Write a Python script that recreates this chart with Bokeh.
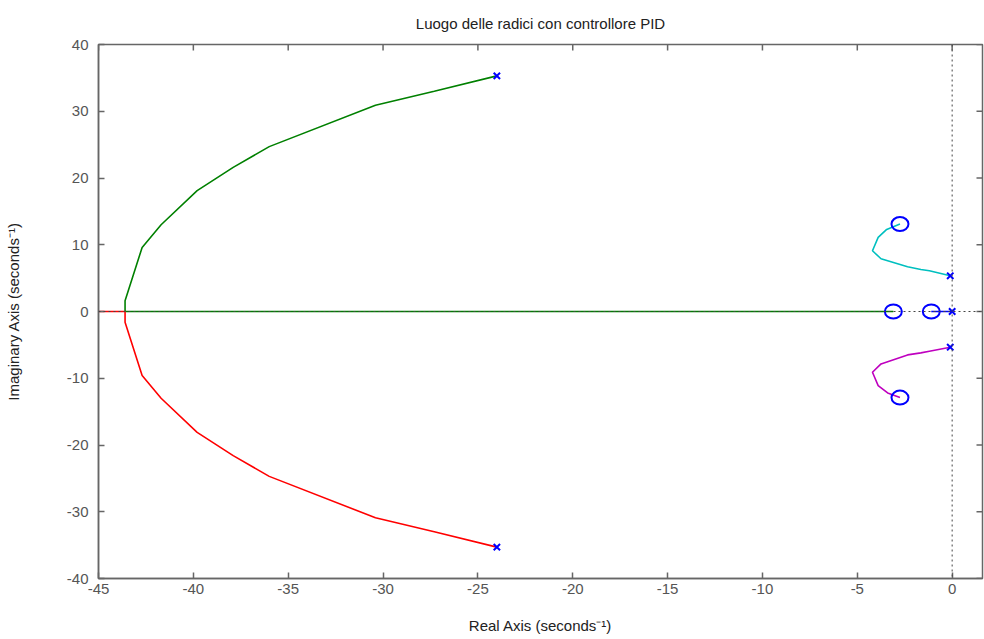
from bokeh.plotting import figure
from bokeh.models import Range1d, FixedTicker, Span
from bokeh.embed import file_html
from bokeh.resources import INLINE

# ---- data ----
title_text = "Luogo delle radici con controllore PID"
green_x = [-24.0, -27.3, -30.4, -36.0, -37.9, -39.8, -41.7, -42.7, -43.6, -43.6, -3.1]
green_y = [35.3, 33.0, 30.9, 24.7, 21.6, 18.1, 13.0, 9.6, 1.6, 0.0, 0.0]
red_x = [-24.0, -27.3, -30.4, -36.0, -37.9, -39.8, -41.7, -42.7, -43.6, -43.6, -45.0]
red_y = [-35.3, -33.0, -30.9, -24.7, -21.6, -18.1, -13.0, -9.6, -1.6, 0.0, 0.0]
cyan_x = [-0.1, -1.2, -1.65, -2.35, -3.75, -4.2, -3.9, -3.45, -2.75]
cyan_y = [5.35, 6.1, 6.3, 6.7, 7.9, 9.1, 11.1, 12.3, 13.1]
mag_x = [-0.1, -1.2, -1.65, -2.35, -3.75, -4.2, -3.9, -3.4, -2.75]
mag_y = [-5.35, -5.95, -6.2, -6.5, -7.85, -9.1, -11.1, -12.2, -12.9]
blue_x = [0.0, -1.1]
blue_y = [0.0, 0.0]
pole_x = [-24.0, -24.0, -0.1, -0.1, 0.0]
pole_y = [35.3, -35.3, 5.35, -5.35, 0.0]
zero_x = [-2.75, -2.75, -3.1, -1.1]
zero_y = [13.1, -12.9, 0.0, 0.0]
x_ticks = [-45, -40, -35, -30, -25, -20, -15, -10, -5, 0]
y_ticks = [-40, -30, -20, -10, 0, 10, 20, 30, 40]
x_min, x_max = -45, 1.6
y_min, y_max = -40, 40

p = figure(width=984, height=639, output_backend="svg", toolbar_location=None,
           x_range=Range1d(x_min, x_max), y_range=Range1d(y_min, y_max),
           title=title_text,
           x_axis_label="Real Axis (seconds⁻¹)",
           y_axis_label="Imaginary Axis (seconds⁻¹)",
           min_border_left=98, min_border_right=2, min_border_top=0, min_border_bottom=61)

p.background_fill_color = "white"
p.border_fill_color = "white"
p.xgrid.visible = False
p.ygrid.visible = False
p.outline_line_color = "#666666"
p.outline_line_width = 1.5

p.title.align = "center"
p.title.text_font = "Liberation Sans"
p.title.text_font_size = "15px"
p.title.text_font_style = "normal"
p.title.text_color = "#222222"
p.title.padding = 5
p.title.standoff = 15

for ax in (p.xaxis[0], p.yaxis[0]):
    ax.axis_line_color = "#666666"
    ax.axis_line_width = 1.5
    ax.major_tick_line_color = "#666666"
    ax.major_tick_line_width = 1.5
    ax.major_tick_in = 6
    ax.major_tick_out = 0
    ax.minor_tick_line_color = None
    ax.major_label_text_font = "Liberation Sans"
    ax.major_label_text_font_size = "15px"
    ax.major_label_text_color = "#555555"
    ax.axis_label_text_font = "Liberation Sans"
    ax.axis_label_text_font_size = "15px"
    ax.axis_label_text_font_style = "normal"
    ax.axis_label_text_color = "#222222"

p.xaxis.ticker = FixedTicker(ticks=x_ticks)
p.yaxis.ticker = FixedTicker(ticks=y_ticks)
p.xaxis.major_label_overrides = {t: str(t) for t in x_ticks}
p.yaxis.major_label_overrides = {t: str(t) for t in y_ticks}
p.xaxis.major_label_standoff = 5
p.yaxis.major_label_standoff = 10
p.xaxis.axis_label_standoff = 20
p.yaxis.axis_label_standoff = 42

# inward ticks on top and right edges of the box (half of each dash is clipped by the frame)
p.scatter(x=x_ticks, y=[y_max] * len(x_ticks), marker="dash", angle=1.5708, size=12,
          line_color="#666666", line_width=1.5)
p.scatter(x=[x_max] * len(y_ticks), y=y_ticks, marker="dash", size=12,
          line_color="#666666", line_width=1.5)

# dotted axes lines
p.add_layout(Span(location=0, dimension="width", line_color="#444444", line_dash="2 3", line_width=1))
p.add_layout(Span(location=0, dimension="height", line_color="#444444", line_dash="2 3", line_width=1))

p.line(green_x, green_y, line_color="#008000", line_width=1.6)
p.line(red_x, red_y, line_color="#ff0000", line_width=1.6)
p.line(cyan_x, cyan_y, line_color="#00bfbf", line_width=1.6)
p.line(mag_x, mag_y, line_color="#bf00bf", line_width=1.6)
p.line(blue_x, blue_y, line_color="#0000ff", line_width=1.6)

p.ellipse(x=zero_x, y=zero_y, width=17, height=14, width_units="screen", height_units="screen",
          fill_alpha=0, line_color="#0000ff", line_width=2)
p.scatter(x=pole_x, y=pole_y, marker="x", size=9, line_color="#0000ff", line_width=2)

open("out.html", "w").write(file_html(p, INLINE))
